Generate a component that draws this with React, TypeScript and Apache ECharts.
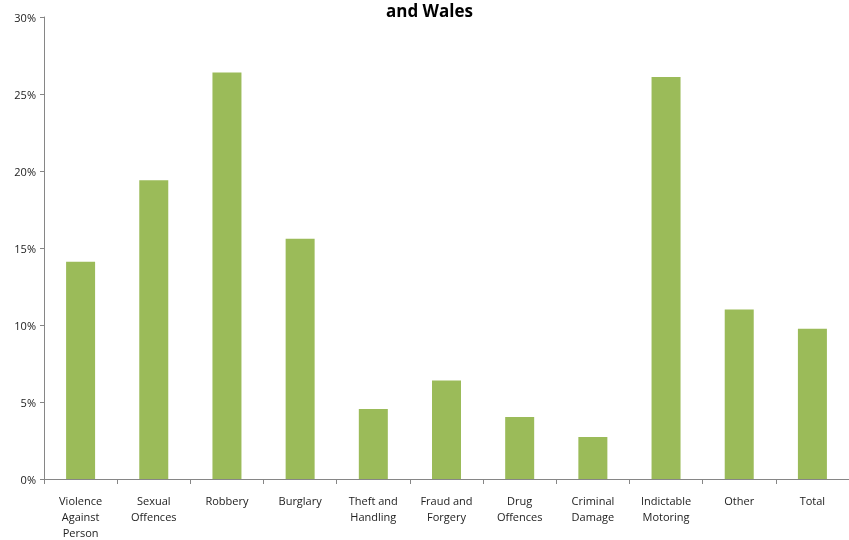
import React, { useEffect, useRef } from "react";
import * as echarts from "echarts";

const categories = [
  "Violence\nAgainst\nPerson",
  "Sexual\nOffences",
  "Robbery",
  "Burglary",
  "Theft and\nHandling",
  "Fraud and\nForgery",
  "Drug\nOffences",
  "Criminal\nDamage",
  "Indictable\nMotoring",
  "Other",
  "Total",
];
const values = [14.1, 19.4, 26.4, 15.6, 4.55, 6.4, 4.03, 2.72, 26.1, 11.0, 9.75];
const titleText = "and Wales";

export default function App() {
  const ref = useRef<HTMLDivElement>(null);
  useEffect(() => {
    if (!ref.current) return;
    const chart = echarts.init(ref.current, null, { renderer: "svg" });
    const font = "'Open Sans', 'Noto Sans', sans-serif";
    chart.setOption({
      animation: false,
      grid: { left: 44, right: -5, top: 17, bottom: 56, containLabel: false },
      graphic: [
        {
          type: "text",
          left: 386,
          top: 2,
          style: { text: titleText, font: `bold 17px ${font}`, fill: "#000" },
        },
      ],
      xAxis: {
        type: "category",
        data: categories,
        axisLine: { lineStyle: { color: "#868686" } },
        axisTick: { show: true, length: 5, alignWithLabel: false, lineStyle: { color: "#868686" } },
        axisLabel: { color: "#222", fontSize: 11, fontFamily: font, lineHeight: 16, margin: 13, interval: 0 },
      },
      yAxis: {
        type: "value",
        min: 0,
        max: 30,
        interval: 5,
        axisLine: { show: true, lineStyle: { color: "#868686" } },
        axisTick: { show: true, length: 4, lineStyle: { color: "#868686" } },
        splitLine: { show: false },
        axisLabel: { color: "#222", fontSize: 11, fontFamily: font, margin: 8, formatter: "{value}%" },
      },
      series: [
        {
          type: "bar",
          data: values,
          barWidth: 29,
          itemStyle: { color: "#9bbb59" },
        },
      ],
    });
    return () => chart.dispose();
  }, []);
  return (
    <div
      ref={ref}
      style={{ position: "fixed", left: 0, top: 0, width: 849, height: 540 }}
    />
  );
}
